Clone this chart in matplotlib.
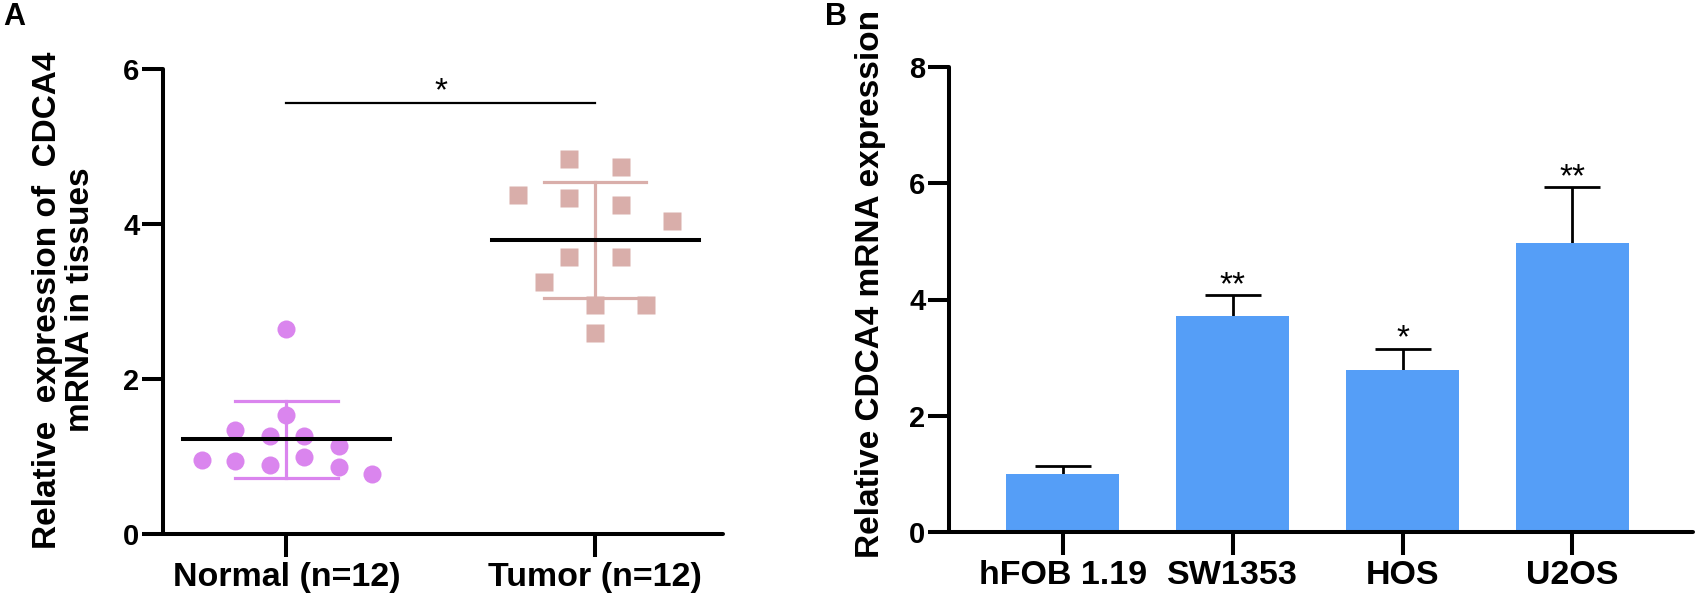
import numpy as np
import matplotlib.pyplot as plt

plt.rcParams['font.family'] = ['Liberation Sans', 'DejaVu Sans']
plt.rcParams['font.weight'] = 'bold'

# Panel A: scatter of tissue samples
normal_vals = [2.65, 1.54, 1.34, 1.26, 1.26, 1.13, 0.96, 0.94, 0.89, 1.00, 0.86, 0.78]
normal_jit = [0.0, 0.0, -0.166, -0.055, 0.058, 0.169, -0.274, -0.166, -0.055, 0.058, 0.169, 0.278]
tumor_vals = [4.84, 4.73, 4.37, 4.34, 4.24, 4.04, 3.57, 3.57, 3.25, 2.95, 2.95, 2.59]
tumor_jit = [-0.084, 0.082, -0.25, -0.084, 0.082, 0.248, -0.084, 0.082, -0.166, 0.0, 0.165, 0.0]
groups = ['Normal (n=12)', 'Tumor (n=12)']
group_mean = [1.22, 3.79]
group_sd = [0.50, 0.75]

# Panel B: cell lines
cells = ['hFOB 1.19', 'SW1353', 'HOS', 'U2OS']
expr = [0.99, 3.71, 2.79, 4.98]
expr_err = [0.15, 0.36, 0.36, 0.95]
stars = ['', '**', '*', '**']

W, H = 1703, 605
fig = plt.figure(figsize=(W / 100, H / 100), dpi=100)

ax1 = fig.add_axes([163 / W, 1 - 534 / H, (723 - 163) / W, (534 - 69) / H])
ax2 = fig.add_axes([949 / W, 1 - 532 / H, (1693 - 949) / W, (532 - 67) / H])

for ax in (ax1, ax2):
    for s in ('top', 'right'):
        ax.spines[s].set_visible(False)
    for s in ('left', 'bottom'):
        ax.spines[s].set_linewidth(2.9)
        ax.spines[s].set_capstyle('round')
    ax.tick_params(axis='y', width=2.9, length=15, labelsize=21, pad=2)
    ax.tick_params(axis='x', width=2.9, length=16.5, labelsize=24.5, pad=4)

# --- Panel A
c_norm = '#DA85EE'
c_tum = '#D9AEAA'
ax1.plot(np.array(normal_jit) + 0, normal_vals, 'o', color=c_norm, ms=13, mec='none', zorder=3)
ax1.plot(np.array(tumor_jit) + 1, tumor_vals, 's', color=c_tum, ms=12.5, mec='none', zorder=3)
for i, (m, sd, c) in enumerate(zip(group_mean, group_sd, [c_norm, c_tum])):
    ax1.plot([i - 0.335, i + 0.335], [m, m], color='black', lw=2.9, zorder=4)
    ax1.plot([i, i], [m - sd, m + sd], color=c, lw=2.3, zorder=2)
    ax1.plot([i - 0.166, i + 0.166], [m + sd, m + sd], color=c, lw=2.3, zorder=2)
    ax1.plot([i - 0.166, i + 0.166], [m - sd, m - sd], color=c, lw=2.3, zorder=2)
ax1.plot([0, 1], [5.56, 5.56], color='black', lw=1.6)
ax1.text(0.5, 5.50, '*', ha='center', va='bottom', fontsize=24, fontweight='normal')
ax1.set_xlim(-0.40, 1.414)
ax1.set_ylim(0, 6)
ax1.set_yticks([0, 2, 4, 6])
ax1.set_xticks([0, 1])
ax1.set_xticklabels(groups)
ax1.set_ylabel('Relative  expression of  CDCA4\nmRNA in tissues', fontsize=24,
               fontweight='bold', linespacing=1.05, va='center')
ax1.yaxis.set_label_coords(64 / W, 1 - 300 / H, transform=fig.transFigure)

# --- Panel B
x = np.arange(len(cells))
ax2.bar(x, expr, width=0.665, color='#559EF7', zorder=2)
# lower half of the error bar sits behind the bar
ax2.errorbar(x, expr, yerr=expr_err, fmt='none',
             ecolor='black', elinewidth=2, capsize=20, capthick=2, zorder=1)
for xi, v, e, s in zip(x, expr, expr_err, stars):
    if s:
        ax2.text(xi, v + e - 0.1, s, ha='center', va='bottom', fontsize=24,
                 fontweight='normal')
ax2.set_xlim(-0.67, 3.71)
ax2.set_ylim(0, 8)
ax2.set_yticks([0, 2, 4, 6, 8])
ax2.set_xticks(x)
ax2.set_xticklabels(cells)
ax2.set_ylabel('Relative CDCA4 mRNA expression', fontsize=24, fontweight='bold', va='center')
ax2.yaxis.set_label_coords(870 / W, 1 - 284 / H, transform=fig.transFigure)

fig.text(3 / W, 1 - 2 / H, 'A', fontsize=22, fontweight='bold', va='top')
fig.text(825 / W, 1 - 2 / H, 'B', fontsize=22, fontweight='bold', va='top')

fig.savefig('out.png', dpi=100)
